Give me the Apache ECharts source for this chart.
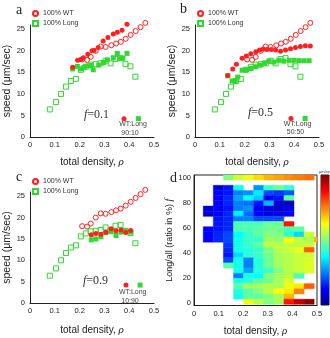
<!DOCTYPE html>
<html>
<head>
<meta charset="utf-8">
<script src="https://cdn.jsdelivr.net/npm/echarts@6/dist/echarts.min.js"></script>
<style>html,body{margin:0;padding:0;background:#fff}#chart{width:330px;height:338px}</style>
</head>
<body>
<div id="chart"></div>
<script>
// reference curves, same in panels a, b, c
var wtRho = [0.21, 0.23, 0.245, 0.265, 0.285, 0.305, 0.328, 0.347, 0.366, 0.386, 0.406, 0.426, 0.446, 0.465];
var wtSpeed = [18.0, 17.9, 18.6, 20.0, 21.0, 20.9, 21.3, 21.7, 22.1, 22.8, 23.7, 24.6, 25.5, 26.5];
var longRho = [0.08, 0.105, 0.125, 0.145, 0.165, 0.185, 0.205, 0.225, 0.245, 0.265, 0.285, 0.305, 0.325, 0.345, 0.365, 0.385, 0.405, 0.425];
var longSpeed = [6.4, 8.1, 10.0, 11.7, 13.0, 13.5, 15.6, 16.3, 16.8, 16.9, 17.1, 17.7, 17.1, 18.1, 18.3, 16.9, 16.4, 14.0];

// mixtures: a f=0.1, b f=0.5, c f=0.9
var aWtRho = [0.172, 0.192, 0.205, 0.215, 0.233, 0.25, 0.258, 0.275, 0.295, 0.314, 0.336, 0.352, 0.371, 0.391];
var aWtSpeed = [16.2, 17.8, 18.0, 18.4, 19.2, 20.0, 20.1, 20.8, 22.3, 23.1, 23.9, 24.3, 24.8, 26.2];
var aLongRho = [0.172, 0.191, 0.205, 0.218, 0.233, 0.246, 0.255, 0.277, 0.296, 0.312, 0.336, 0.352, 0.362, 0.375, 0.391];
var aLongSpeed = [15.8, 16.4, 15.8, 16.2, 16.5, 16.6, 15.6, 16.7, 17.3, 17.9, 18.4, 19.4, 18.2, 18.3, 19.4];

var bWtRho = [0.132, 0.152, 0.167, 0.19, 0.207, 0.225, 0.245, 0.26, 0.275, 0.29, 0.307, 0.325, 0.345, 0.365, 0.385, 0.405, 0.425, 0.445, 0.465];
var bWtSpeed = [14.3, 15.8, 16.9, 18.3, 18.8, 19.3, 19.8, 20.2, 20.4, 20.3, 20.3, 20.2, 19.9, 20.2, 20.5, 20.8, 21.0, 21.2, 21.1];
var bLongRho = [0.132, 0.15, 0.162, 0.172, 0.19, 0.207, 0.225, 0.245, 0.262, 0.28, 0.298, 0.318, 0.338, 0.358, 0.38, 0.4, 0.42, 0.44, 0.46];
var bLongSpeed = [14.2, 13.0, 13.1, 13.9, 15.5, 15.6, 15.9, 16.3, 16.7, 17.1, 17.6, 17.4, 17.8, 17.6, 17.8, 17.8, 17.7, 17.7, 17.7];

var cWtRho = [0.247, 0.266, 0.286, 0.306, 0.327, 0.347, 0.367, 0.386, 0.406];
var cWtSpeed = [16.0, 16.3, 16.1, 16.6, 17.4, 16.9, 17.1, 16.5, 17.0];
var cLongRho = [0.247, 0.266, 0.286, 0.306, 0.327, 0.347, 0.367, 0.386, 0.406];
var cLongSpeed = [14.8, 15.0, 15.5, 16.5, 16.7, 15.8, 16.6, 16.9, 16.6];

// little key in the corner of a, b, c
var keyRho = [[0.379, 0.437], [0.387, 0.444], [0.387, 0.444]];
var keySpeed = [4.25, 4.3, 4.2];
var ratioText = ['f=0.1', 'f=0.5', 'f=0.9'];
var mixText = ['90:10', '50:50', '10:90'];

// panel d: speed map, rows from f=100 down, columns in rho
var dRho = [0.058, 0.099, 0.14, 0.181, 0.222, 0.263, 0.304, 0.345, 0.386, 0.427, 0.468, 0.509];
var dF = [100, 91.75, 87.6, 83.5, 79.4, 75.25, 71.1, 67, 62.9, 58.75, 54.6, 50.5, 46.4, 42.25, 38.1, 34, 29.9, 25.75, 21.6, 17.5, 13.4, 9.25, 5.1, 1];
var n = null;
var dSpeed = [
  [n, n, 14, 16, 17, 18.5, 19.5, 20, 20.5, 21, 21.5, n],
  [n, 2, 4, 11, n, 7.5, 12, 13.5, 12, n, n, n],
  [n, 3.5, 4, 7, 7.5, 10, 5.5, 5, 6, n, n, n],
  [n, 3.5, 4.5, 8, 10.5, 9, 3, 4, 13, n, n, n],
  [n, 3.5, 4.5, 7, 6.5, 4, 8.5, 2, 1.5, n, n, n],
  [2, 3.5, 4, 7, 7.5, 3.5, 2.5, 2, 3, n, n, n],
  [2, 3.5, 4.5, 10, 6.5, 3.5, 2.5, 2.5, 3.5, n, n, n],
  [n, 4, 4.5, 7, 7, 5.5, 5.5, 5.5, n, n, n, n],
  [n, 4, 4.5, 12.5, 12.5, 12.5, 13.5, 13.5, 24, n, n, n],
  [3.5, 4, 4.5, 12.5, 12.5, 13, 13.5, 13.5, 12.5, 13, n, n],
  [3.5, 4.5, 5.5, 10.5, 12, 13, 14, 14, 11.5, 9.5, 16, n],
  [3.5, 4.5, 5.5, 11, 12, 12, 15, 14.5, 17.5, 16, 15, 19.5],
  [n, n, 5, 11, 12, 13, 15.5, 15.5, 16, 15.5, 16, n],
  [n, n, 4.5, 11, 11.5, 12, 14, 15.5, 16, 17, 22, n],
  [n, n, 4, 9.5, 11.5, 12, 13.5, 15, 15.5, 16, 16, n],
  [n, n, 5.5, 11, 7, 11.5, 13.5, 15, 15.5, 16, 16.5, n],
  [n, n, 13, 11, 7, 11.5, 13.5, 15, 15.5, 16, 16.5, n],
  [n, n, n, 11, 8, 11.5, 12, 14, 15.5, 16, 16.5, n],
  [n, n, n, 7, 11, 10.5, 14, 15, 15.5, 12.5, n, n],
  [n, n, n, 11, 11.5, 13, 13.5, 15, 16.5, n, n, n],
  [n, n, n, 13, 15, 15, 15.5, 15, 17, 18, 22, n],
  [n, n, n, 11.5, 13, 14, 15.5, 17.5, 18, 21, n, n],
  [n, n, n, 11, 13, 13, 14, 15, 19.5, n, n, n],
  [n, n, n, n, 17, 15.5, 14, 15, 24, 26, 27.5, n]
];
var cellW = 0.041, cellH = 4.125;
var speedMax = 28;

var red = '#ff1f1f', green = '#2fd92f';
var jet = ['#00008f', '#0000ff', '#0080ff', '#00ffff', '#80ff80', '#ffff00', '#ff8000', '#ff0000', '#800000'];
var font = 'Liberation Sans';

function pts(xs, ys) {
  var out = [];
  for (var i = 0; i < xs.length; i++) out.push([xs[i], ys[i]]);
  return out;
}

var heatData = [];
for (var r = 0; r < dF.length; r++) {
  for (var c = 0; c < dRho.length; c++) {
    if (dSpeed[r][c] != null) heatData.push([dRho[c], dF[r], dSpeed[r][c]]);
  }
}

var grids = [
  {left: 30, top: 25, width: 124, height: 112},
  {left: 195, top: 25, width: 124, height: 112},
  {left: 30, top: 192, width: 124, height: 111},
  {left: 194, top: 175, width: 123, height: 130.5, show: true, borderColor: '#222', borderWidth: 1},
  {left: 321, top: 175, width: 8, height: 130, show: true, borderColor: '#222', borderWidth: 1}
];
grids.forEach(function (g) { g.outerBoundsMode = 'none'; g.containLabel = false; });

var labelStyle = {fontFamily: font, fontSize: 7.5, color: '#222'};
var nameStyle = {fontFamily: font, fontSize: 10, color: '#222',
  rich: {i: {fontFamily: 'Liberation Serif', fontStyle: 'italic', fontSize: 11, color: '#222'}}};

var xAxes = [], yAxes = [];
var xGaps = [20, 20, 22, 20];
for (var i = 0; i < 4; i++) {
  xAxes.push({
    type: 'value', gridIndex: i, min: 0, max: 0.5, interval: 0.1,
    axisLine: {onZero: false, lineStyle: {color: '#222'}}, axisTick: {show: false}, splitLine: {show: false},
    axisLabel: Object.assign({margin: 4}, labelStyle),
    name: 'total density, {i|ρ}', nameLocation: 'middle', nameGap: xGaps[i], nameTextStyle: nameStyle
  });
}
for (var i = 0; i < 3; i++) {
  yAxes.push({
    type: 'value', gridIndex: i, min: 0, max: 26, interval: 5,
    axisLine: {show: true, onZero: false, lineStyle: {color: '#222'}}, axisTick: {show: false}, splitLine: {show: false},
    axisLabel: Object.assign({margin: 5, formatter: function (v) { return v % 5 === 0 ? v : ''; }}, labelStyle),
    name: 'speed (μm/sec)', nameLocation: 'middle', nameGap: 13,
    nameTextStyle: {fontFamily: font, fontSize: 10.5, color: '#222'}
  });
}
yAxes.push({
  type: 'value', gridIndex: 3, min: -2, max: 102, splitNumber: 5,
  axisLine: {show: true, onZero: false, lineStyle: {color: '#222'}}, axisTick: {show: false}, splitLine: {show: false},
  axisLabel: Object.assign({margin: 3, formatter: function (v) { return v % 20 === 0 ? v : ''; }}, labelStyle),
  name: 'Long/all (ratio in %) {i|f}', nameLocation: 'middle', nameGap: 15,
  nameTextStyle: {fontFamily: font, fontSize: 9, color: '#222',
    rich: {i: {fontFamily: 'Liberation Serif', fontStyle: 'italic', fontSize: 10, color: '#222'}}}
});
// colour bar axes
xAxes.push({type: 'value', gridIndex: 4, min: 0, max: 1, show: false});
yAxes.push({
  type: 'value', gridIndex: 4, min: 0, max: speedMax, interval: 5, position: 'right',
  axisLine: {show: false}, axisTick: {show: false}, splitLine: {show: false},
  axisLabel: {inside: true, margin: 1, fontSize: 5, color: '#333', fontFamily: font,
    formatter: function (v) { return (v % 5 === 0 && v > 0) ? v : ''; }}
});

var mixWt = [pts(aWtRho, aWtSpeed), pts(bWtRho, bWtSpeed), pts(cWtRho, cWtSpeed)];
var mixLong = [pts(aLongRho, aLongSpeed), pts(bLongRho, bLongSpeed), pts(cLongRho, cLongSpeed)];

var series = [];
for (var i = 0; i < 3; i++) {
  series.push({
    name: '100% WT', type: 'scatter', xAxisIndex: i, yAxisIndex: i, clip: false,
    symbol: 'circle', symbolSize: 5,
    itemStyle: {color: 'rgba(255,255,255,0)', borderColor: red, borderWidth: 1, opacity: 1},
    data: pts(wtRho, wtSpeed)
  });
  series.push({
    name: '100% Long', type: 'scatter', xAxisIndex: i, yAxisIndex: i, clip: false,
    symbol: 'rect', symbolSize: 5,
    itemStyle: {color: 'rgba(255,255,255,0)', borderColor: green, borderWidth: 1, opacity: 1},
    data: pts(longRho, longSpeed)
  });
  series.push({
    name: 'Long mix', type: 'scatter', xAxisIndex: i, yAxisIndex: i, clip: false,
    symbol: 'rect', symbolSize: 5, itemStyle: {color: green, opacity: 1},
    data: mixLong[i].concat([[keyRho[i][1], keySpeed[i]]])
  });
  series.push({
    name: 'WT mix', type: 'scatter', xAxisIndex: i, yAxisIndex: i, clip: false,
    symbol: 'circle', symbolSize: 5, itemStyle: {color: red, opacity: 1},
    data: mixWt[i].concat([[keyRho[i][0], keySpeed[i]]])
  });
}
var heatIndex = series.length;
series.push({
  type: 'custom', xAxisIndex: 3, yAxisIndex: 3, data: heatData,
  encode: {x: 0, y: 1},
  renderItem: function (params, api) {
    var p0 = api.coord([api.value(0) - cellW / 2, api.value(1) + cellH / 2]);
    var p1 = api.coord([api.value(0) + cellW / 2, api.value(1) - cellH / 2]);
    var cs = params.coordSys;
    var rect = echarts.graphic.clipRectByRect(
      {x: p0[0], y: p0[1], width: p1[0] - p0[0], height: p1[1] - p0[1]},
      {x: cs.x, y: cs.y, width: cs.width, height: cs.height});
    if (!rect) return;
    var col = api.visual('color');
    return {type: 'rect', shape: rect, style: {fill: col, stroke: col, lineWidth: 0.4}};
  }
});
series.push({
  type: 'custom', xAxisIndex: 4, yAxisIndex: 4, data: [[0, speedMax]], silent: true,
  renderItem: function (params, api) {
    var p0 = api.coord([0, api.value(1)]);
    var p1 = api.coord([1, 0]);
    var stops = jet.map(function (c, k) { return {offset: k / (jet.length - 1), color: c}; });
    return {type: 'rect', shape: {x: p0[0], y: p0[1], width: p1[0] - p0[0], height: p1[1] - p0[1]},
      style: {fill: new echarts.graphic.LinearGradient(0, 1, 0, 0, stops)}};
  }
});

var legendPos = [[32, 10], [197, 10], [32, 178]];
var legends = legendPos.map(function (p) {
  return {data: ['100% WT', '100% Long'], orient: 'vertical', left: p[0], top: p[1],
    itemWidth: 5, itemHeight: 5, itemGap: 3, padding: 0, selectedMode: false,
    textStyle: {fontFamily: font, fontSize: 7, color: '#333'}};
});

function txt(x, y, s, style) {
  return {type: 'text', x: x, y: y, style: Object.assign({text: s}, style)};
}
var letterStyle = {font: '14px "Liberation Serif"', fill: '#222'};
var fStyle = {font: '12px "Liberation Serif"', fill: '#333', verticalAlign: 'middle',
  rich: {i: {font: 'italic 12px "Liberation Serif"', fill: '#333'}}};
var keyStyle = {font: '7px "Liberation Sans"', fill: '#444', align: 'center', verticalAlign: 'middle'};
var fPos = [[84, 115], [248, 113], [83, 281]];
var keyPos = [[133, 124.3, 130, 132.7], [297.5, 124.3, 295.5, 132.3], [132.7, 292.3, 130, 300.7]];
var graphics = [
  txt(16, 3, 'a', letterStyle), txt(180, 2, 'b', letterStyle),
  txt(16, 170, 'c', letterStyle), txt(170, 171, 'd', letterStyle),
  txt(325.5, 172, 'μm/sec', {font: '4px "Liberation Sans"', fill: '#444', align: 'center', verticalAlign: 'middle'})
];
for (var i = 0; i < 3; i++) {
  graphics.push(txt(fPos[i][0], fPos[i][1], '{i|f}' + ratioText[i].slice(1), fStyle));
  graphics.push(txt(keyPos[i][0], keyPos[i][1], 'WT:Long', keyStyle));
  graphics.push(txt(keyPos[i][2], keyPos[i][3], mixText[i], keyStyle));
}

var chart = echarts.init(document.getElementById('chart'));
chart.setOption({
  animation: false,
  backgroundColor: '#fff',
  grid: grids,
  xAxis: xAxes,
  yAxis: yAxes,
  legend: legends,
  visualMap: {show: false, type: 'continuous', min: 0, max: speedMax, dimension: 2,
    seriesIndex: heatIndex, inRange: {color: jet}},
  series: series,
  graphic: graphics
});
</script>
</body>
</html>
